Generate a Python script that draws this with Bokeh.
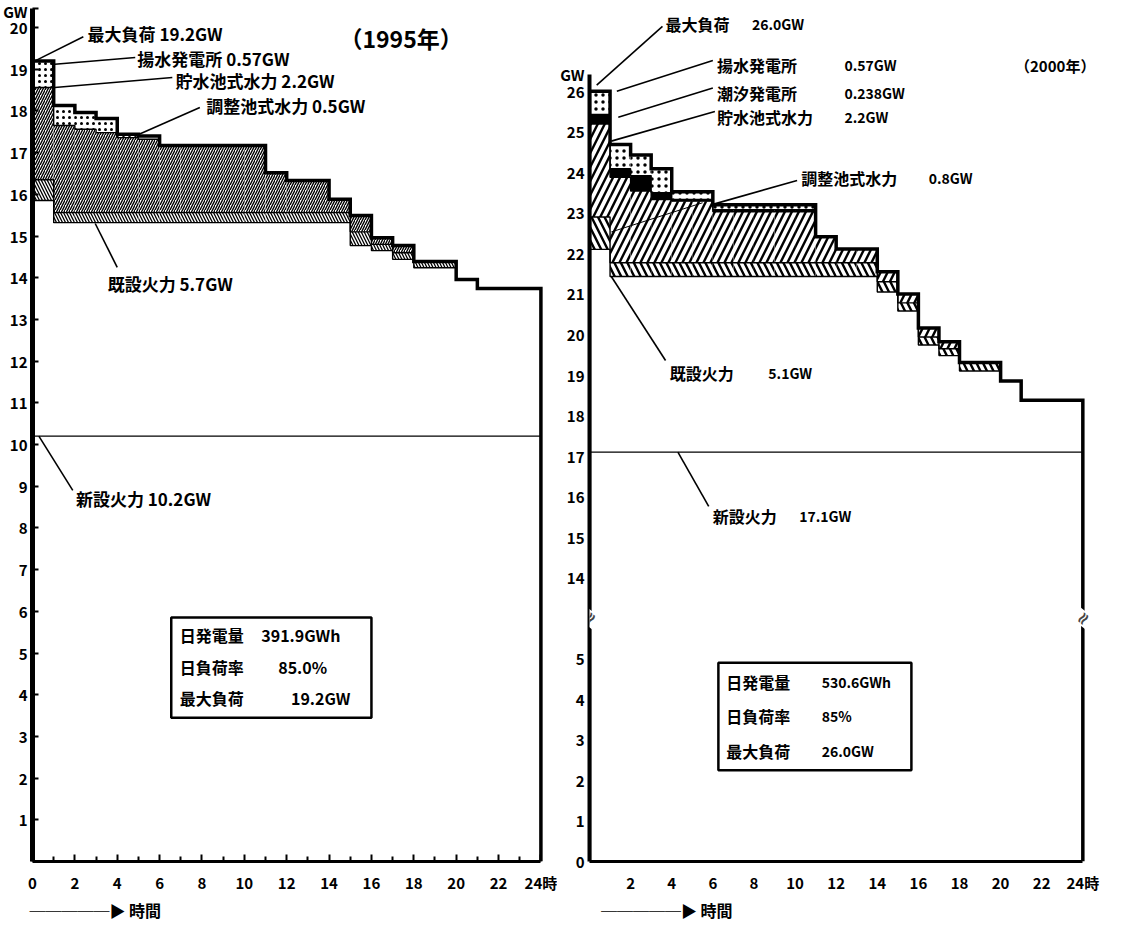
from bokeh.plotting import figure
from bokeh.layouts import row
from bokeh.models import Label, FixedTicker, Range1d, BoxAnnotation, LinearAxis
from bokeh.embed import file_html
from bokeh.resources import INLINE

hours = list(range(24))

# ---------------- 1995 ----------------
load_1995 = [19.20, 18.13, 17.96, 17.82, 17.44, 17.40, 17.17, 17.17, 17.17, 17.17, 17.17, 16.52,
             16.33, 16.33, 15.88, 15.49, 14.96, 14.77, 14.39, 14.39, 13.96, 13.74, 13.74, 13.74]
existing_top_1995 = [15.85, 15.32, 15.32, 15.32, 15.32, 15.32, 15.32, 15.32, 15.32, 15.32, 15.32, 15.32,
                     15.32, 15.32, 15.32, 14.77, 14.65, 14.44, 14.24, 14.24, 13.96, 13.74, 13.74, 13.74]
pondage_1995 = [0.50, 0.24, 0.24, 0.24, 0.24, 0.24, 0.24, 0.24, 0.24, 0.24, 0.24, 0.24,
                0.24, 0.24, 0.24, 0.33, 0.15, 0.16, 0.15, 0.15, 0.00, 0.00, 0.00, 0.00]
reservoir_1995 = [2.21, 2.09, 2.00, 1.92, 1.80, 1.76, 1.61, 1.61, 1.61, 1.61, 1.61, 0.96,
                  0.77, 0.77, 0.32, 0.39, 0.16, 0.17, 0.00, 0.00, 0.00, 0.00, 0.00, 0.00]
pumped_1995 = [0.64, 0.48, 0.40, 0.34, 0.08, 0.08, 0.00, 0.00, 0.00, 0.00, 0.00, 0.00,
               0.00, 0.00, 0.00, 0.00, 0.00, 0.00, 0.00, 0.00, 0.00, 0.00, 0.00, 0.00]
new_thermal_1995 = 10.2

# ---------------- 2000 ----------------
load_2000 = [26.00, 24.69, 24.43, 24.09, 23.52, 23.52, 23.20, 23.20, 23.20, 23.20, 23.20, 22.41,
             22.11, 22.11, 21.55, 21.00, 20.16, 19.82, 19.31, 19.31, 18.85, 18.38, 18.38, 18.38]
existing_top_2000 = [22.10, 21.43, 21.43, 21.43, 21.43, 21.43, 21.43, 21.43, 21.43, 21.43, 21.43, 21.43,
                     21.43, 21.43, 21.05, 20.58, 19.74, 19.48, 19.10, 19.10, 18.85, 18.38, 18.38, 18.38]
pondage_2000 = [0.80, 0.34, 0.34, 0.34, 0.34, 0.34, 0.34, 0.34, 0.34, 0.34, 0.34, 0.34,
                0.34, 0.34, 0.25, 0.20, 0.20, 0.17, 0.21, 0.21, 0.00, 0.00, 0.00, 0.00]
reservoir_2000 = [2.29, 2.11, 1.77, 1.56, 1.52, 1.52, 1.26, 1.26, 1.26, 1.26, 1.26, 0.64,
                  0.34, 0.34, 0.25, 0.22, 0.22, 0.17, 0.00, 0.00, 0.00, 0.00, 0.00, 0.00]
tidal_2000 = [0.24, 0.21, 0.38, 0.17, 0.04, 0.04, 0.05, 0.05, 0.05, 0.05, 0.05, 0.00,
              0.00, 0.00, 0.00, 0.00, 0.00, 0.00, 0.00, 0.00, 0.00, 0.00, 0.00, 0.00]
pumped_2000 = [0.57, 0.60, 0.51, 0.59, 0.19, 0.19, 0.12, 0.12, 0.12, 0.12, 0.12, 0.00,
               0.00, 0.00, 0.00, 0.00, 0.00, 0.00, 0.00, 0.00, 0.00, 0.00, 0.00, 0.00]
new_thermal_2000 = 17.1

x_ticks = [0, 2, 4, 6, 8, 10, 12, 14, 16, 18, 20, 22, 24]
y_ticks_1995 = [1, 2, 3, 4, 5, 6, 7, 8, 9, 10, 11, 12, 13, 14, 15, 16, 17, 18, 19, 20]
y_ticks_2000 = [0, 1, 2, 3, 4, 5, 14, 15, 16, 17, 18, 19, 20, 21, 22, 23, 24, 25, 26]

box_1995 = [("日発電量", "391.9GWh"), ("日負荷率", "85.0%"), ("最大負荷", "19.2GW")]
box_2000 = [("日発電量", "530.6GWh"), ("日負荷率", "85%"), ("最大負荷", "26.0GW")]

CJK = "Noto Sans CJK JP"
BREAK_SHIFT = 7.0   # upper segment of the broken 2000 axis (14..26 drawn at 7..19)
ARROW_TEXT = "─────▶ 時間"


def brk(v):
    return v - BREAK_SHIFT if v >= 13 else v


hour_ends = [h + 1 for h in hours]


def stack(base, *layers):
    bounds = [list(base)]
    for lay in layers:
        bounds.append([a + b for a, b in zip(bounds[-1], lay)])
    return bounds


def step_path(vals, closed=False):
    xs, ys = [], []
    for h, e, v in zip(hours, hour_ends, vals):
        xs += [h, e]
        ys += [v, v]
    if closed:
        xs = [hours[0]] + xs + [hour_ends[-1]]
        ys = [0] + ys + [0]
    return xs, ys


def style_axis(ax, size="15px"):
    ax.major_label_text_font = CJK
    ax.major_label_text_font_style = "bold"
    ax.major_label_text_font_size = size
    ax.major_label_text_color = "black"
    ax.axis_line_color = "black"
    ax.major_tick_line_color = "black"
    ax.minor_tick_line_color = "black"


def base_fig(width, x_end, y_end, mb_left, mb_right, mb_bottom):
    p = figure(width=width, height=930, x_range=Range1d(0, x_end), y_range=Range1d(0, y_end),
               output_backend="svg", toolbar_location=None,
               min_border_left=mb_left, min_border_right=mb_right,
               min_border_top=2, min_border_bottom=mb_bottom)
    p.outline_line_color = None
    p.grid.visible = False
    p.background_fill_color = "white"
    p.border_fill_color = "white"
    style_axis(p.xaxis[0])
    style_axis(p.yaxis[0])
    return p


def arrow_axis(p, center):
    ax = LinearAxis(ticker=FixedTicker(ticks=[center]),
                    major_label_overrides={center: ARROW_TEXT})
    style_axis(ax, "16px")
    ax.axis_line_color = None
    ax.major_tick_line_color = None
    ax.minor_tick_line_color = None
    ax.major_tick_in = 0
    ax.major_tick_out = 0
    ax.minor_tick_in = 0
    ax.minor_tick_out = 0
    ax.major_label_standoff = 2
    p.add_layout(ax, "below")


def label(p, x, y, text, size="17px", align="left", font=CJK):
    p.add_layout(Label(x=x, y=y, text=text, text_font=font, text_font_size=size,
                       text_font_style="bold", text_align=align, text_baseline="middle",
                       text_color="black"))


def leader(p, x0, y0, x1, y1, w=1.6):
    p.line([x0, x1], [y0, y1], line_color="black", line_width=w)


def layers(p, bounds, styles):
    for (lo, hi), st in zip(zip(bounds[:-1], bounds[1:]), styles):
        p.quad(left=hours, right=hour_ends, bottom=lo, top=hi, line_color=None, **st)
    for b in bounds[:-1]:
        xs, ys = step_path(b)
        p.line(xs, ys, line_color="black", line_width=1.4)


def table_box(p, left, right, bottom, top):
    p.add_layout(BoxAnnotation(left=left, right=right, bottom=bottom, top=top,
                               fill_color=None, fill_alpha=0, line_color="black",
                               line_alpha=1.0, line_width=2.5))


# ======================= LEFT : 1995 =======================
L = base_fig(557, 24.5, 20.6, 29, 6, 69)
xa = L.xaxis[0]
xa.bounds = (0, 24)
xa.ticker = FixedTicker(ticks=x_ticks, minor_ticks=[1, 3, 5, 7, 9, 11, 13, 15, 17, 19, 21, 23])
xa.major_label_overrides = {24: "24時"}
xa.axis_line_width = 3
xa.major_tick_in = 7
xa.major_tick_out = 0
xa.minor_tick_in = 5
xa.minor_tick_out = 0
xa.major_tick_line_width = 2
xa.minor_tick_line_width = 2
xa.major_label_standoff = 10
GW_L = 20.45
ya = L.yaxis[0]
ya.bounds = (0, GW_L)
ya.ticker = FixedTicker(ticks=y_ticks_1995 + [GW_L])
ya.major_label_overrides = {GW_L: "GW"}
ya.axis_line_width = 5
ya.major_tick_in = 6
ya.major_tick_out = 0
ya.major_tick_line_width = 2
ya.minor_tick_in = 0
ya.minor_tick_out = 0
ya.major_label_standoff = 5
arrow_axis(L, 2.96)

b95 = stack(existing_top_1995, pondage_1995, reservoir_1995, pumped_1995)
layers(L, b95, [
    dict(fill_color="white", hatch_pattern="\\", hatch_color="black", hatch_weight=1.3, hatch_scale=6),
    dict(fill_color="white", hatch_pattern="/", hatch_color="black", hatch_weight=1.4, hatch_scale=5),
    dict(fill_color="white", hatch_pattern=".", hatch_color="black", hatch_weight=1.4, hatch_scale=6),
])
L.line([hours[0], hour_ends[-1]], [new_thermal_1995, new_thermal_1995], line_color="black", line_width=1.2)
xs, ys = step_path(load_1995, closed=True)
L.line(xs, ys, line_color="black", line_width=3.5, line_join="miter")

label(L, 17.4, 19.74, "（1995年）", size="23px", align="center")
label(L, 2.6, 19.86, "最大負荷 19.2GW")
label(L, 4.95, 19.26, "揚水発電所 0.57GW")
label(L, 6.75, 18.72, "貯水池式水力 2.2GW")
label(L, 8.2, 18.12, "調整池式水力 0.5GW")
label(L, 3.55, 13.85, "既設火力 5.7GW")
label(L, 2.05, 8.7, "新設火力 10.2GW")
leader(L, 0.12, load_1995[0], 2.4, 19.78)
leader(L, 1.05, 19.12, 4.85, 19.28)
leader(L, 1.05, 18.56, 6.6, 18.8)
leader(L, 4.98, 17.43, 7.9, 18.08)
leader(L, 2.96, 15.30, 4.0, 14.25)
leader(L, 0.3, new_thermal_1995, 1.9, 8.9)

table_box(L, 6.55, 16.0, 3.45, 5.85)
for (name, val), yy, vx in zip(box_1995, [5.42, 4.66, 3.92], [10.8, 11.6, 12.2]):
    label(L, 6.95, yy, name, size="16px")
    label(L, vx, yy, val, size="16px")

# ======================= RIGHT : 2000 =======================
R = base_fig(557, 25.2, 21.19, 27, 7, 58)
xb = R.xaxis[0]
xb.bounds = (0, 24)
xb.ticker = FixedTicker(ticks=x_ticks[1:])
xb.major_label_overrides = {24: "24時"}
xb.axis_line_width = 3
xb.major_tick_in = 0
xb.major_tick_out = 0
xb.minor_tick_in = 0
xb.minor_tick_out = 0
xb.major_label_standoff = 10
GW_R = brk(26.42)
yb = R.yaxis[0]
yb.bounds = (0, GW_R)
yb.ticker = FixedTicker(ticks=[brk(v) for v in y_ticks_2000] + [GW_R])
labels_r = {brk(v): str(v) for v in y_ticks_2000}
labels_r[GW_R] = "GW"
yb.major_label_overrides = labels_r
yb.axis_line_width = 4
yb.major_tick_in = 0
yb.major_tick_out = 0
yb.minor_tick_in = 0
yb.minor_tick_out = 0
yb.major_label_standoff = 5
arrow_axis(R, 3.76)

b00 = stack(existing_top_2000, pondage_2000, reservoir_2000, tidal_2000, pumped_2000)
b00d = [[brk(v) for v in b] for b in b00]
layers(R, b00d, [
    dict(fill_color="white", hatch_pattern="\\", hatch_color="black", hatch_weight=2.4, hatch_scale=13),
    dict(fill_color="white", hatch_pattern="/", hatch_color="black", hatch_weight=2.4, hatch_scale=14),
    dict(fill_color="black"),
    dict(fill_color="white", hatch_pattern=".", hatch_color="black", hatch_weight=1.6, hatch_scale=7),
])
R.line([hours[0], hour_ends[-1]], [brk(new_thermal_2000)] * 2, line_color="black", line_width=1.2)
xs, ys = step_path([brk(v) for v in load_2000], closed=True)
R.line(xs, ys, line_color="black", line_width=3.5, line_join="miter")

for bx in (0, 24):
    R.add_layout(Label(x=bx, y=6.0, text="≈", text_font="DejaVu Sans", text_font_size="17px",
                       text_font_style="bold", text_align="center", text_baseline="middle",
                       angle=0.9, background_fill_color="white"))

label(R, 20.7, brk(26.64), "（2000年）", size="15px")
label(R, 3.7, brk(27.65), "最大負荷", size="16px")
label(R, 7.9, brk(27.65), "26.0GW", size="14px")
label(R, 6.2, brk(26.64), "揚水発電所", size="16px")
label(R, 12.4, brk(26.64), "0.57GW", size="14px")
label(R, 6.2, brk(25.96), "潮汐発電所", size="16px")
label(R, 12.4, brk(25.96), "0.238GW", size="14px")
label(R, 6.2, brk(25.36), "貯水池式水力", size="16px")
label(R, 12.4, brk(25.36), "2.2GW", size="14px")
label(R, 10.3, brk(23.85), "調整池式水力", size="16px")
label(R, 16.5, brk(23.85), "0.8GW", size="14px")
label(R, 3.9, brk(19.06), "既設火力", size="16px")
label(R, 8.7, brk(19.06), "5.1GW", size="14px")
label(R, 6.0, brk(15.52), "新設火力", size="16px")
label(R, 10.2, brk(15.52), "17.1GW", size="14px")
leader(R, 0.35, brk(load_2000[0]) + 0.15, 3.55, brk(27.6))
leader(R, 1.33, brk(26.0), 6.0, brk(26.76))
leader(R, 1.4, brk(25.36), 6.0, brk(26.08))
leader(R, 1.06, brk(24.77), 6.1, brk(25.5))
leader(R, 6.0, brk(23.21), 10.1, brk(23.8))
leader(R, 5.5, brk(23.25), 1.06, brk(22.53), w=1.0)
leader(R, 1.06, brk(21.43), 3.7, brk(19.36))
leader(R, 4.3, brk(new_thermal_2000), 5.8, brk(15.76))

table_box(R, 6.27, 15.66, 2.25, 4.9)
for (name, val), yy in zip(box_2000, [4.42, 3.58, 2.72]):
    label(R, 6.65, yy, name, size="16px")
    label(R, 11.3, yy, val, size="14px")

layout = row(L, R)
open("out.html", "w").write(file_html(layout, INLINE))
